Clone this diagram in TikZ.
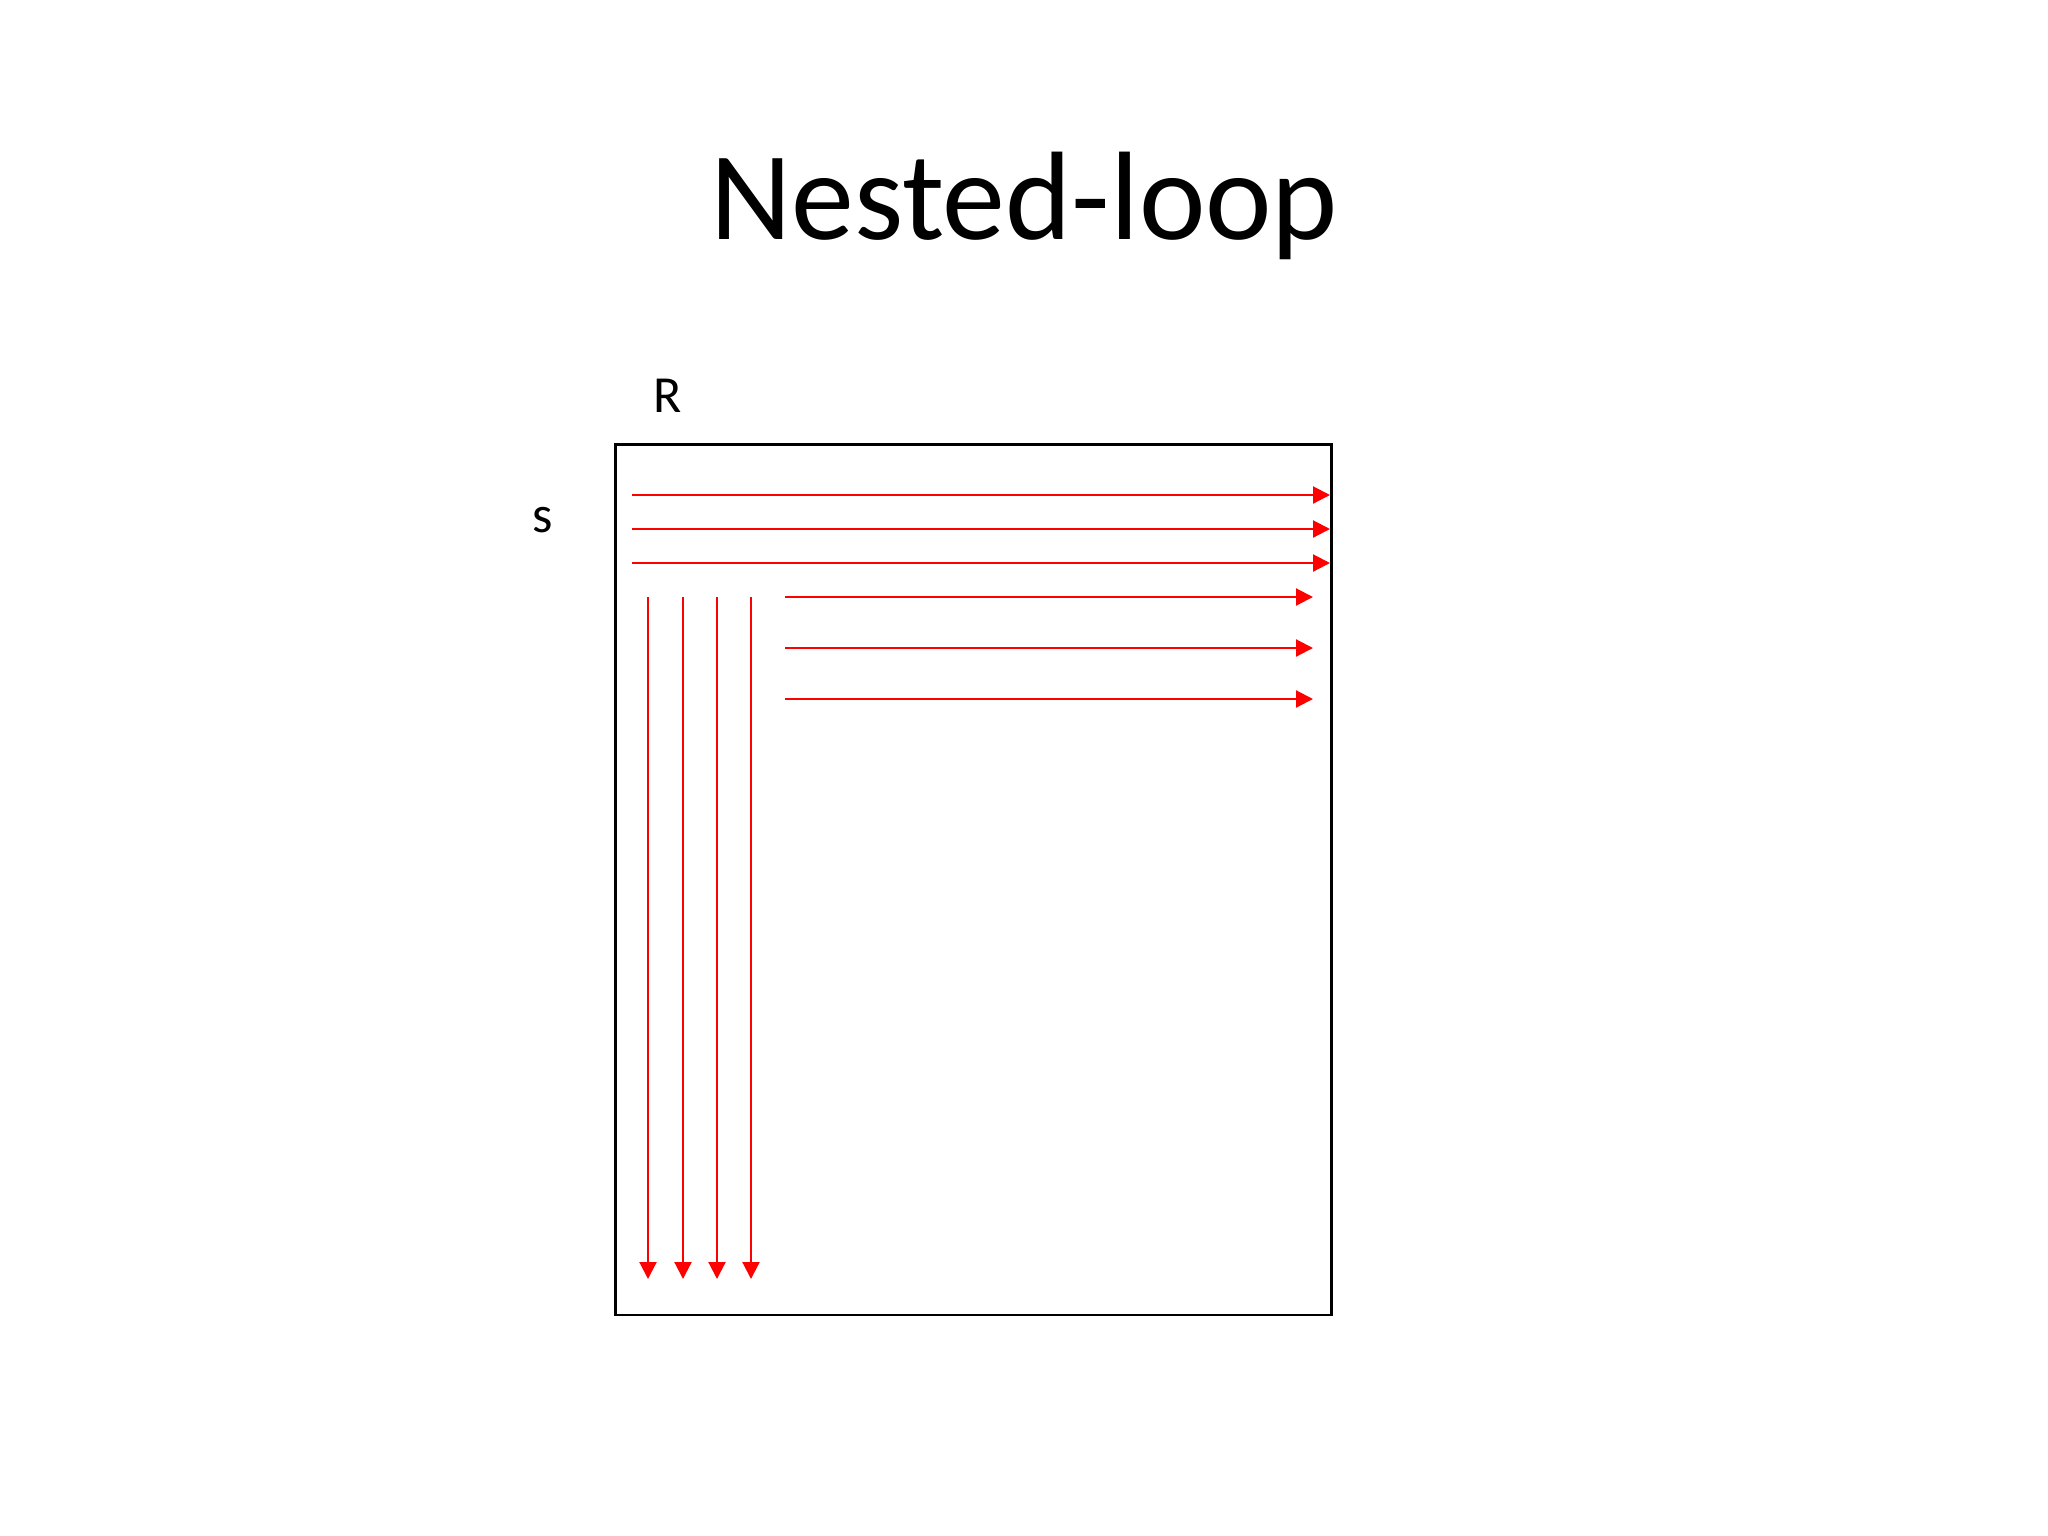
\documentclass[tikz,border=0pt]{standalone}
\usepackage{fontspec}
\setmainfont{Carlito}
\usetikzlibrary{arrows.meta}
\tikzset{
  titletext/.style={inner sep=0pt, anchor=base, font=\fontsize{35.8}{40}\selectfont},
  labeltext/.style={inner sep=0pt, anchor=base, font=\fontsize{14.8}{18}\selectfont},
  frame/.style={draw=black, line width=0.75pt, inner sep=0pt, anchor=north west, minimum width=7.16cm, minimum height=8.70cm},
  redarrow/.style={draw=red, line width=0.6pt, -{Triangle[length=0.17cm, width=0.17cm]}}
}
\begin{document}
\begin{tikzpicture}[x=0.01cm, y=-0.01cm]
\useasboundingbox (0,0) rectangle (2048,1536);
\node[titletext] (title) at (1024,239) {Nested-loop};
\node[labeltext] (R) at (668,412) {R};
\node[labeltext] (S) at (543,532) {s};
\node[frame] (box) at (614,443) {};
% top three full-width rows
\foreach \i/\y in {1/495, 2/529, 3/563} {
  \coordinate (hs\i) at (632,\y);
  \coordinate (he\i) at (1330,\y);
  \draw[redarrow] (hs\i) -- (he\i);
}
% lower shorter rows
\foreach \i/\y in {4/597, 5/648, 6/699} {
  \coordinate (hs\i) at (785,\y);
  \coordinate (he\i) at (1313,\y);
  \draw[redarrow] (hs\i) -- (he\i);
}
% vertical columns
\foreach \i/\x in {1/648, 2/683, 3/717, 4/751} {
  \coordinate (vs\i) at (\x,597);
  \coordinate (ve\i) at (\x,1279);
  \draw[redarrow] (vs\i) -- (ve\i);
}
\end{tikzpicture}
\end{document}
